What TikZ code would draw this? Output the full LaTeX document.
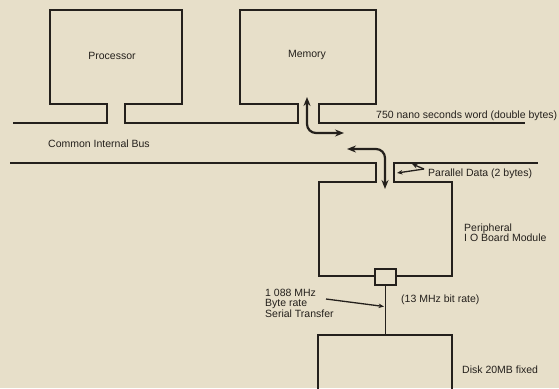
\documentclass[tikz,border=0pt]{standalone}
\usepackage{fontspec}
\setmainfont{Liberation Sans}
\usetikzlibrary{arrows.meta}
\definecolor{paper}{RGB}{231,223,201}
\definecolor{ink}{RGB}{36,32,28}
\tikzset{
  wire/.style={draw=ink, line width=1.6pt, line join=miter},
  bigarrow/.style={draw=ink, line width=2.2pt, rounded corners=9pt, {Stealth[length=9pt,width=7pt]}-{Stealth[length=9pt,width=7pt]}},
  pointer/.style={draw=ink, line width=1.3pt, -{Stealth[length=5.5pt,width=4.5pt]}},
  lbl/.style={text=ink, inner sep=0pt, font=\fontsize{10.5}{12}\selectfont},
  lbll/.style={lbl, anchor=base west},
}
\begin{document}
\begin{tikzpicture}[x=1pt, y=-1pt]
\fill[paper] (0,0) rectangle (559,388);
\useasboundingbox (0,0) rectangle (559,388);
% upper bus with processor and memory
\draw[wire] (13,123) -- (107,123) -- (107,104) -- (50,104) -- (50,10) -- (182,10) -- (182,104) -- (125,104) -- (125,123)
  -- (298,123) -- (298,104) -- (240,104) -- (240,10) -- (376,10) -- (376,104) -- (319,104) -- (319,123) -- (525,123);
% lower bus with peripheral board
\draw[wire] (10,163) -- (376,163) -- (376,182) -- (319,182) -- (319,276) -- (375,276);
\draw[wire] (396,276) -- (452,276) -- (452,182) -- (394,182) -- (394,163) -- (538,163);
\node[wire, minimum width=21pt, minimum height=16pt, inner sep=0pt] (sq) at (385.5,277) {};
% disk
\draw[wire] (318,395) -- (318,335) coordinate (dtl) -- (452,335) -- (452,395);
\coordinate (dtop) at (sq.south |- dtl);
\draw[wire] (sq.south) -- (dtop);
% arrows
\coordinate (m1) at (307,97);
\coordinate (m2) at (344,133);
\draw[bigarrow] (m1) -- (m1 |- m2) -- (m2);
\coordinate (p1) at (347,149);
\coordinate (p2) at (385,189);
\draw[bigarrow] (p1) -- (p1 -| p2) -- (p2);
% labels
\node[lbl, anchor=base] (proc) at (112,59) {Processor};
\node[lbl, anchor=base] (mem) at (307,57) {Memory};
\node[lbll] (bus) at (48,147) {Common Internal Bus};
\node[lbll] (ns) at (376,118) {750 nano seconds word (double bytes)};
\node[lbll] (par) at (428,176) {Parallel Data (2 bytes)};
\node[lbll] (per1) at (464,231) {Peripheral};
\node[lbll] (per2) at (464,241.5) {I O Board Module};
\node[lbll] (s1) at (265,296) {1 088 MHz};
\node[lbll] (s2) at (265,306.5) {Byte rate};
\node[lbll] (s3) at (265,317) {Serial Transfer};
\node[lbll] (bit) at (401,302) {(13 MHz bit rate)};
\node[lbll] (disk) at (462,373) {Disk 20MB fixed};
% pointers
\coordinate (pp) at (424,169);
\coordinate (pa) at (412,164);
\coordinate (pb) at (397,173);
\draw[pointer] (pp) -- (pa);
\draw[pointer] (pp) -- (pb);
\coordinate (sp) at (326,299);
\coordinate (st) at (384,306.5);
\draw[pointer] (sp) -- (st);
\end{tikzpicture}
\end{document}
